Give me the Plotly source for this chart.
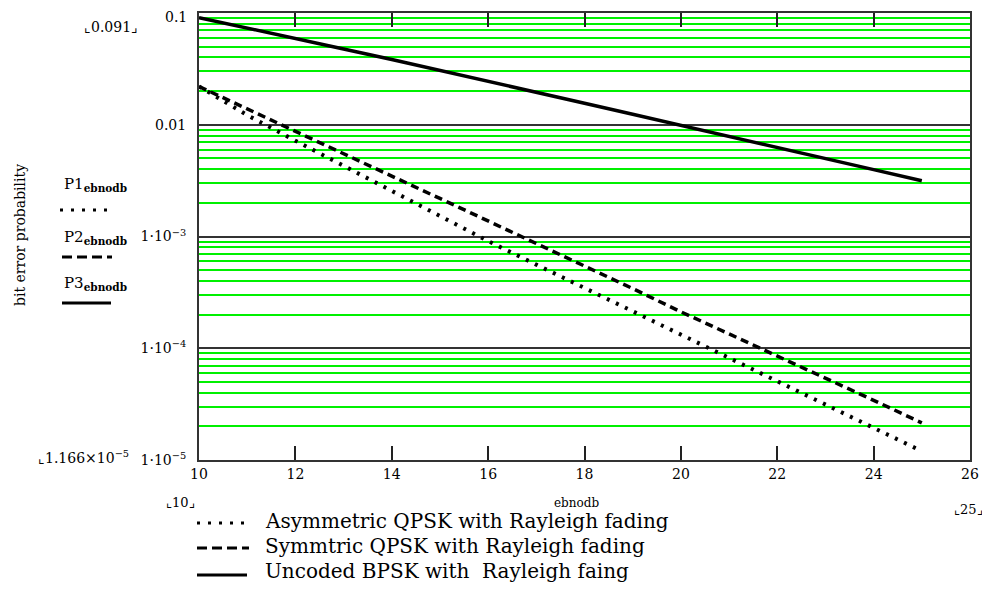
import plotly.graph_objects as go

# ---- data ----
ebnodb = [10, 11, 12, 13, 14, 15, 16, 17, 18, 19, 20, 21, 22, 23, 24, 25]
p1_asym_qpsk = [0.0220, 0.0122, 0.0072, 0.00430, 0.00255, 0.00150, 9.1e-4, 5.6e-4,
                3.47e-4, 2.14e-4, 1.33e-4, 8.3e-5, 5.1e-5, 3.16e-5, 1.95e-5, 1.2e-5]
p2_sym_qpsk = [0.0220, 0.0138, 0.0087, 0.0055, 0.00347, 0.00219, 0.00138, 8.7e-4,
               5.5e-4, 3.42e-4, 2.12e-4, 1.35e-4, 8.6e-5, 5.4e-5, 3.42e-5, 2.15e-5]
p3_bpsk = [0.0909, 0.0736, 0.0594, 0.0477, 0.0383, 0.0307, 0.0245, 0.0196,
           0.0156, 0.0124, 0.0099, 0.00788, 0.00627, 0.00499, 0.00397, 0.00315]

x_ticks = [10, 12, 14, 16, 18, 20, 22, 24, 26]
y_ticks = [0.1, 0.01, 1e-3, 1e-4, 1e-5]
y_ticktext = ["", "0.01", "1·10<sup>−3</sup>", "1·10<sup>−4</sup>", "1·10<sup>−5</sup>"]
y_top_label = "0.1"
legend_names = ["Asymmetric QPSK with Rayleigh fading",
                "Symmtric QPSK with Rayleigh fading",
                "Uncoded BPSK with  Rayleigh faing"]

SERIF = "DejaVu Serif"

# page has an 8px body margin; work in screenshot pixels and compensate
OFF = 8
W, H = 990 - OFF, 590 - OFF
L, R, T, B = 199, 970, 13, 460   # plot area in screenshot pixels

def px(xp):
    return (xp - L) / (R - L)

def py(yp):
    return (B - yp) / (B - T)

fig = go.Figure()
fig.add_trace(go.Scatter(x=ebnodb, y=p1_asym_qpsk, mode="lines",
                         line=dict(color="black", width=4, dash="3px,7px")))
fig.add_trace(go.Scatter(x=ebnodb, y=p2_sym_qpsk, mode="lines",
                         line=dict(color="black", width=3.5, dash="8px,5px")))
fig.add_trace(go.Scatter(x=ebnodb, y=p3_bpsk, mode="lines",
                         line=dict(color="black", width=3.5)))

minor_vals = [m * 10 ** e for e in range(-5, -1) for m in range(2, 10)]

fig.update_layout(
    width=W, height=H,
    margin=dict(l=L - OFF, r=W - (R - OFF), t=T - OFF, b=H - (B - OFF), autoexpand=False),
    paper_bgcolor="white", plot_bgcolor="white",
    showlegend=False,
    font=dict(family=SERIF, color="black"),
    xaxis=dict(range=[10, 26], tickmode="array", tickvals=x_ticks,
               ticks="inside", ticklen=14, tickwidth=2, tickcolor="#222",
               showline=True, linecolor="#333", linewidth=2, mirror="ticks",
               showgrid=False, zeroline=False, automargin=False,
               ticklabeloverflow="allow",
               tickfont=dict(family=SERIF, size=14, color="black")),
    yaxis=dict(type="log", range=[-5, -1], tickmode="array", tickvals=y_ticks,
               ticktext=y_ticktext, ticks="", ticklabelstandoff=8,
               ticklabeloverflow="allow",
               showline=True, linecolor="#333", linewidth=2, mirror=True,
               showgrid=True, gridcolor="#333", gridwidth=1.5, zeroline=False,
               automargin=False,
               tickfont=dict(family=SERIF, size=14, color="black"),
               minor=dict(tickmode="array", tickvals=minor_vals, showgrid=True,
                          gridcolor="#00f000", gridwidth=2, ticks="")),
)

ann = []
def text(xp, yp, s, size=14, xanchor="center", yanchor="middle", angle=0):
    ann.append(dict(x=px(xp), y=py(yp), xref="paper", yref="paper", text=s,
                    showarrow=False, xanchor=xanchor, yanchor=yanchor,
                    textangle=angle, font=dict(family=SERIF, size=size, color="black")))

# top y tick label (placed slightly below the frame, as in the original)
text(189, 17, y_top_label, size=14, xanchor="right")

# Mathcad limit markers
text(111, 27, "⌞0.091⌟", size=14)
text(36, 457, "⌞1.166×10<sup>−5</sup>", size=14, xanchor="left")
text(180, 502, "⌞10⌟", size=13)
text(968, 509, "⌞25⌟", size=13)
text(576, 503, "ebnodb", size=12)

# y-axis title and left legend
text(20, 235, "bit error probability", size=14, angle=-90)
sub = "<sub><b>ebnodb</b></sub>"
text(62, 184, "P1" + sub, size=15, xanchor="left")
text(62, 237, "P2" + sub, size=15, xanchor="left")
text(62, 283, "P3" + sub, size=15, xanchor="left")

# bottom legend
legend_y = [521, 546, 571]
for yv, name in zip(legend_y, legend_names):
    text(263, yv, name, size=20, xanchor="left")

fig.update_layout(annotations=ann)

# legend line samples
samples = [
    (60, 112, 210, "3px,8px", 3),
    (62, 112, 257, "10px,5px", 3),
    (62, 111, 303, "solid", 3),
    (197, 249, 523, "3px,8px", 3),
    (197, 249, 548, "10px,5px", 3),
    (197, 247, 575, "solid", 3),
]
for x0, x1, yv, dash, w in samples:
    fig.add_shape(type="line", xref="paper", yref="paper",
                  x0=px(x0), x1=px(x1), y0=py(yv), y1=py(yv),
                  line=dict(color="black", width=w, dash=dash))

fig.write_html("out.html")
